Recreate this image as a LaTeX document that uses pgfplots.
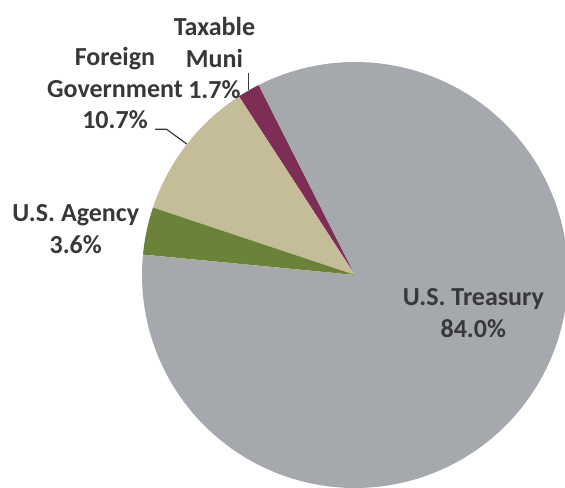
\documentclass[border=0pt]{standalone}
\usepackage{pgfplots}
\pgfplotsset{compat=1.18}
\usepackage{fontspec}
\setmainfont{Carlito}
\definecolor{treas}{HTML}{A5A8AC}
\definecolor{muni}{HTML}{7E2D55}
\definecolor{forgov}{HTML}{C5BD97}
\definecolor{agency}{HTML}{6B823B}
\definecolor{txt}{HTML}{383838}
\begin{document}
\begin{tikzpicture}
% shares in percent
\def\vMuni{1.7}
\def\vForeign{10.7}
\def\vAgency{3.6}
\def\vTreasury{84.0}
\pgfmathsetmacro{\aA}{116.9}
\pgfmathsetmacro{\aB}{\aA+3.6*\vMuni}
\pgfmathsetmacro{\aC}{\aB+3.6*\vForeign}
\pgfmathsetmacro{\aD}{\aC+3.6*\vAgency}
\pgfmathsetmacro{\aE}{\aD+3.6*\vTreasury}
\begin{axis}[
  name=ax,
  scale only axis, width=282.5pt, height=243.5pt,
  xmin=0, xmax=565, ymin=0, ymax=487,
  hide axis, clip=true,
]
\addplot[fill=muni, draw=none, domain=\aA:\aB, samples=10]
  ({355+213*cos(x)},{212+213*sin(x)}) -- (axis cs:355,212) -- cycle;
\addplot[fill=forgov, draw=none, domain=\aB:\aC, samples=40]
  ({355+213*cos(x)},{212+213*sin(x)}) -- (axis cs:355,212) -- cycle;
\addplot[fill=agency, draw=none, domain=\aC:\aD, samples=15]
  ({355+213*cos(x)},{212+213*sin(x)}) -- (axis cs:355,212) -- cycle;
\addplot[fill=treas, draw=none, domain=\aD:\aE, samples=200]
  ({355+213*cos(x)},{212+213*sin(x)}) -- (axis cs:355,212) -- cycle;
% leader lines
\addplot[draw=txt, line width=0.6pt] coordinates {(155,357.7) (166.7,357.7) (186.7,343)};
\addplot[draw=txt, line width=0.6pt] coordinates {(248.5,413.7) (248.5,397)};
% labels
\tikzset{lab/.style={font=\bfseries\fontsize{13}{15.8}\selectfont, text=txt, align=center, inner sep=0pt}}
\node[lab] at (axis cs:473.3,173.7) {U.S. Treasury\\84.0\%};
\node[lab] at (axis cs:75.7,257.8) {U.S. Agency\\3.6\%};
\node[lab] at (axis cs:115,398.7) {Foreign\\Government\\10.7\%};
\node[lab] at (axis cs:214.4,429) {Taxable\\Muni\\1.7\%};
\end{axis}
\pgfresetboundingbox
\path[use as bounding box] (ax.south west) rectangle (ax.north east);
\end{tikzpicture}
\end{document}
